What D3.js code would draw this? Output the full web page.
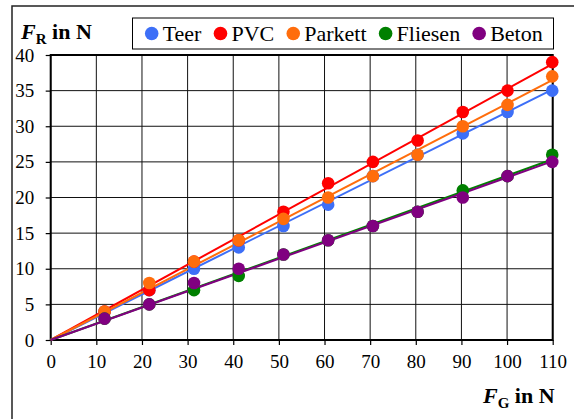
<!DOCTYPE html>
<html>
<head>
<meta charset="utf-8">
<script src="https://cdn.jsdelivr.net/npm/d3@7"></script>
<style>
  body { margin: 0; background: #fff; }
  svg { display: block; font-family: "Liberation Serif", "Times New Roman", serif; }
</style>
</head>
<body>
<svg width="574" height="419"></svg>
<script>
// F_G values (weight force, N)
const fG = [11.8, 21.6, 31.4, 41.2, 51.0, 60.8, 70.6, 80.4, 90.3, 100.1, 109.9];

// F_R values (friction force, N) for each surface
const teer    = [4, 7, 10, 13, 16, 19, 23, 26, 29, 32, 35];
const pvc     = [4, 7, 11, 14, 18, 22, 25, 28, 32, 35, 39];
const parkett = [4, 8, 11, 14, 17, 20, 23, 26, 30, 33, 37];
const fliesen = [3, 5, 7, 9, 12, 14, 16, 18, 21, 23, 26];
const beton   = [3, 5, 8, 10, 12, 14, 16, 18, 20, 23, 25];

const seriesNames = ["Teer", "PVC", "Parkett", "Fliesen", "Beton"];
const seriesValues = [teer, pvc, parkett, fliesen, beton];
const seriesColors = ["#3d6ff7", "#ff0000", "#ff6d0c", "#008000", "#800080"];

const xTicks = [0, 10, 20, 30, 40, 50, 60, 70, 80, 90, 100, 110];
const yTicks = [0, 5, 10, 15, 20, 25, 30, 35, 40];

const svg = d3.select("svg");
const width = +svg.attr("width");
const height = +svg.attr("height");

const margin = { top: 55, left: 50.7, right: 21.3, bottom: 79 };
const innerWidth = width - margin.left - margin.right;
const innerHeight = height - margin.top - margin.bottom;

// outer frame (runs off the picture on the right and bottom)
svg.append("rect")
  .attr("x", 12).attr("y", 6)
  .attr("width", 600).attr("height", 500)
  .attr("fill", "none").attr("stroke", "#222").attr("stroke-width", 1.5);

const xScale = d3.scaleLinear().domain([0, 110]).range([0, innerWidth]);
const yScale = d3.scaleLinear().domain([0, 40]).range([innerHeight, 0]);

const g = svg.append("g")
  .attr("transform", `translate(${margin.left},${margin.top})`);

// grid
g.append("g").attr("class", "grid-x")
  .selectAll("line").data(xTicks).enter().append("line")
  .attr("x1", d => xScale(d)).attr("x2", d => xScale(d))
  .attr("y1", 0).attr("y2", innerHeight)
  .attr("stroke", "#111").attr("stroke-width", 1);

g.append("g").attr("class", "grid-y")
  .selectAll("line").data(yTicks).enter().append("line")
  .attr("x1", 0).attr("x2", innerWidth)
  .attr("y1", d => yScale(d)).attr("y2", d => yScale(d))
  .attr("stroke", "#111").attr("stroke-width", 1);

// axes
const xAxis = d3.axisBottom(xScale).tickValues(xTicks).tickSize(5).tickSizeOuter(0).tickPadding(10);
const yAxis = d3.axisLeft(yScale).tickValues(yTicks).tickSize(5).tickSizeOuter(0).tickPadding(11.5);

const xAxisGroup = g.append("g")
  .attr("class", "x-axis")
  .attr("transform", `translate(0,${innerHeight})`)
  .call(xAxis);
const yAxisGroup = g.append("g")
  .attr("class", "y-axis")
  .call(yAxis);

[xAxisGroup, yAxisGroup].forEach(ax => {
  ax.select(".domain").remove();
  ax.selectAll(".tick line").attr("stroke", "#000").attr("stroke-width", 1.2);
  ax.selectAll(".tick text")
    .attr("fill", "#000")
    .style("font-size", "19px")
    .style("font-family", "'Liberation Serif', 'Times New Roman', serif");
});

// plot frame
g.append("rect")
  .attr("x", 0).attr("y", 0)
  .attr("width", innerWidth).attr("height", innerHeight)
  .attr("fill", "none").attr("stroke", "#000").attr("stroke-width", 2);

// trend lines through the origin (least squares fit of each series)
seriesValues.forEach((vals, i) => {
  const sxy = d3.sum(vals, (v, j) => v * fG[j]);
  const sxx = d3.sum(fG, x => x * x);
  const k = sxy / sxx;
  g.append("line")
    .attr("x1", xScale(0)).attr("y1", yScale(0))
    .attr("x2", xScale(110)).attr("y2", yScale(110 * k))
    .attr("stroke", seriesColors[i])
    .attr("stroke-width", 2);
});

// data points
seriesValues.forEach((vals, i) => {
  g.append("g").attr("class", seriesNames[i])
    .selectAll("circle").data(vals).enter().append("circle")
    .attr("cx", (d, j) => xScale(fG[j]))
    .attr("cy", d => yScale(d))
    .attr("r", 6.3)
    .attr("fill", seriesColors[i]);
});

// legend
const legend = svg.append("g").attr("class", "legend");
legend.append("rect")
  .attr("x", 132.5).attr("y", 18)
  .attr("width", 421).attr("height", 31)
  .attr("fill", "#fff").attr("stroke", "#000").attr("stroke-width", 1);

let lx = 151.7;
seriesNames.forEach((name, i) => {
  legend.append("circle")
    .attr("cx", lx).attr("cy", 33.5).attr("r", 6.8)
    .attr("fill", seriesColors[i]);
  const t = legend.append("text")
    .attr("x", lx + 11).attr("y", 41)
    .style("font-size", "22px")
    .attr("fill", "#000")
    .text(name);
  lx = lx + 11 + t.node().getComputedTextLength() + 19;
});

// axis titles
const yTitle = svg.append("text").attr("x", 21).attr("y", 39)
  .attr("font-weight", "bold").attr("fill", "#000");
yTitle.append("tspan").style("font-size", "22px").attr("font-style", "italic").text("F");
yTitle.append("tspan").style("font-size", "15px").attr("dy", 5).text("R");
yTitle.append("tspan").style("font-size", "22px").attr("dy", -5).text("\u00a0in N");

const xTitle = svg.append("text").attr("x", 483).attr("y", 403)
  .attr("font-weight", "bold").attr("fill", "#000");
xTitle.append("tspan").style("font-size", "22px").attr("font-style", "italic").text("F");
xTitle.append("tspan").style("font-size", "15px").attr("dy", 5).text("G");
xTitle.append("tspan").style("font-size", "22px").attr("dy", -5).text("\u00a0in N");
</script>
</body>
</html>
